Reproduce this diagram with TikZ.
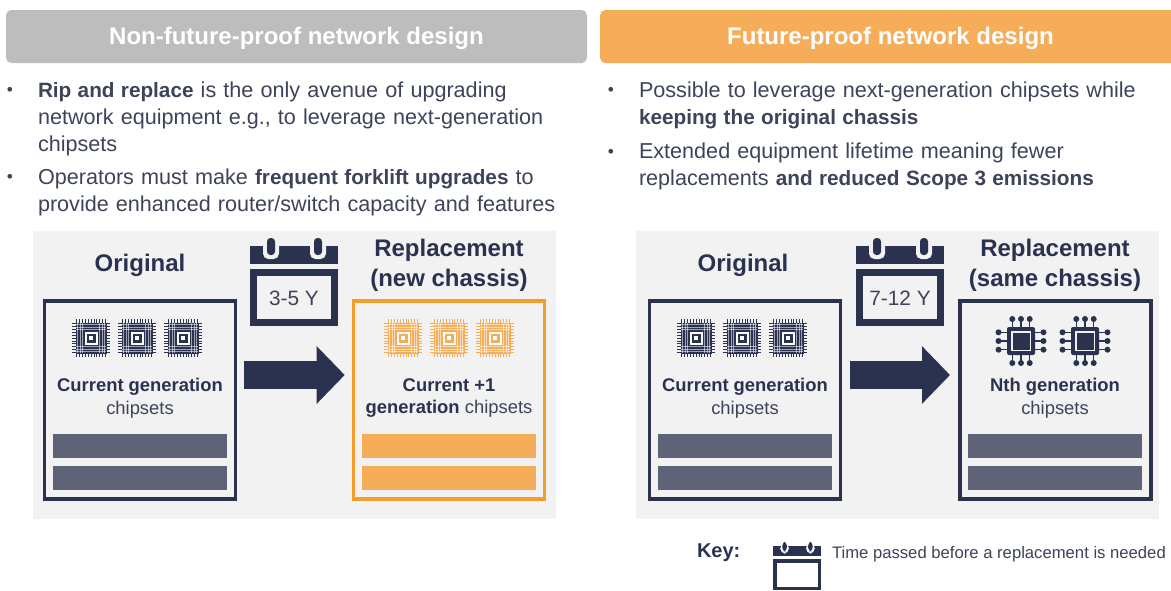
\documentclass[tikz,border=0pt]{standalone}
\usepackage{fontspec}
\setmainfont{Liberation Sans}
\newfontfamily\parafamily[WordSpace=1.19, BoldFeatures={Scale=.96, WordSpace=1.1}]{Liberation Sans}
\usetikzlibrary{positioning,arrows.meta}

\definecolor{navy}{HTML}{2A3250}
\definecolor{slate}{HTML}{5E6378}
\definecolor{bodytext}{HTML}{3D4359}
\definecolor{amber}{HTML}{F5AD5A}
\definecolor{amberline}{HTML}{F29D2E}
\definecolor{silver}{HTML}{BDBDBD}
\definecolor{panelgrey}{HTML}{F2F2F2}

\begin{document}
\begin{tikzpicture}[x=.75pt, y=-.75pt,
every node/.style={inner sep=0pt, outer sep=0pt},
header/.style={rectangle, rounded corners=4pt, minimum width=435.75pt, minimum height=39.75pt, text height=13pt, text depth=1pt, text=white, font=\fontsize{18}{22}\selectfont\bfseries},
panel/.style={rectangle, fill=panelgrey, minimum width=392.25pt, minimum height=216pt},
chassis/.style={rectangle, draw=navy, line width=2.6pt, minimum width=143.25pt, minimum height=148.5pt},
bar/.style={rectangle, fill=slate, minimum width=130.5pt, minimum height=18pt},
bullet/.style={text=bodytext, font=\fontsize{13}{16}\selectfont},
para/.style={anchor=north west, align=left, text=bodytext, font=\parafamily\fontsize{16.2}{20.25}\selectfont},
title/.style={align=center, text=navy, font=\fontsize{18}{22.6}\selectfont\bfseries},
small/.style={align=center, text=bodytext, font=\fontsize{13.8}{17.2}\selectfont},
years/.style={text=bodytext, font=\fontsize{15.6}{19}\selectfont},
bigarrow/.style={line width=21pt, draw=navy, -{Triangle[length=21pt, width=42pt]}, shorten <=6.4pt, shorten >=6.6pt},
pics/densechip/.style={code={
  \foreach \p in {-14.5,-11.6,...,14.6} {
    \draw [#1, line width=.55pt] (\p,-19) -- (\p,19);
    \draw [#1, line width=.55pt] (-19,\p) -- (19,\p);
  }
  \fill [#1] (-15.5,-15.5) rectangle (15.5,15.5);
  \foreach \p in {-13.5,-11,-8.5,8.5,11,13.5} {
    \draw [white, opacity=.55, line width=.3pt] (\p,-15) -- (\p,15);
    \draw [white, opacity=.55, line width=.3pt] (-15,\p) -- (15,\p);
  }
  \fill [#1] (-8,-8) rectangle (8,8);
  \fill [white] (-6.5,-6.5) rectangle (6.5,6.5);
  \fill [#1] (-4.5,-4.5) rectangle (4.5,4.5);
  \fill [white] (-2.2,-2.2) rectangle (2.2,2.2);
}},
pics/boldchip/.style={code={
  \foreach \p in {-8.7,0,8.7} {
    \draw [navy, line width=.9pt] (\p,-22) -- (\p,22);
    \draw [navy, line width=.9pt] (-22.5,\p) -- (22.5,\p);
    \fill [navy] (\p,-22) circle (3);
    \fill [navy] (\p,22) circle (3);
    \fill [navy] (-22.5,\p) circle (3);
    \fill [navy] (22.5,\p) circle (3);
  }
  \fill [navy, rounded corners=1.5pt] (-14,-14) rectangle (14,14);
  \fill [panelgrey] (-10.3,-10.3) rectangle (10.3,10.3);
  \fill [navy] (-8.5,-8.5) rectangle (8.5,8.5);
}},
pics/calendar/.style={code={
  \fill [navy] (0,8) rectangle (88,26);
  \foreach \p in {21,68} {
    \fill [#1, rounded corners=4pt] (\p-8,2) rectangle (\p+8,21);
    \fill [navy, rounded corners=2.6pt] (\p-4,0) rectangle (\p+4,17);
  }
  \fill [navy] (0,31) rectangle (88,88);
  \fill [#1] (7,38) rectangle (81,81);
}}
]

\clip (0,0) rectangle (1171,590);

\node [header, fill=silver] (nofuture) at (296.5,36.5) {Non-future-proof network design};
\node [header, fill=amber] (future) at (890.5,36.5) {Future-proof network design};

\node [bullet] (dota) at (10,91) {•};
\node [para] (rip) at (38,82) {\textbf{Rip and replace} is the only avenue of upgrading\\network equipment e.g., to leverage next-generation\\chipsets};
\node [bullet] (dotb) at (10,178) {•};
\node [para] (operators) at (38,169) {Operators must make \textbf{frequent forklift upgrades} to\\provide enhanced router/switch capacity and features};
\node [bullet] (dotc) at (611,91) {•};
\node [para] (possible) at (639,82) {Possible to leverage next-generation chipsets while\\\textbf{keeping the original chassis}};
\node [bullet] (dotd) at (611,153) {•};
\node [para] (extended) at (639,143) {Extended equipment lifetime meaning fewer\\replacements \textbf{and reduced Scope 3 emissions}};

\node [panel] (panela) at (294.5,375) {};
\node [panel] (panelb) at (897.7,375) {};

\node [chassis] (origa) at (140,400) {};
\node [chassis, draw=amberline] (repla) at (449,400) {};
\node [chassis] (origb) at (745,400) {};
\node [chassis] (replb) at (1055.5,400) {};

\node [title] (origatitle) at (140,265) {Original};
\node [title] (replatitle) at (449,265) {Replacement\\(new chassis)};
\node [title] (origbtitle) at (743,265) {Original};
\node [title] (replbtitle) at (1055,265) {Replacement\\(same chassis)};

\foreach \x in {91,137,183} \pic at (\x,338) {densechip=navy};
\foreach \x in {403,449,495} \pic at (\x,338) {densechip=amber};
\foreach \x in {696,742,788} \pic at (\x,338) {densechip=navy};
\foreach \x in {1021,1085} \pic at (\x,341) {boldchip};

\node [small] (origalabel) at (140,398) {\textbf{\textcolor{navy}{Current generation}}\\chipsets};
\node [small] (replalabel) at (449,398) {\textbf{\textcolor{navy}{Current +1}}\\\textbf{\textcolor{navy}{generation}} chipsets};
\node [small] (origblabel) at (745,398) {\textbf{\textcolor{navy}{Current generation}}\\chipsets};
\node [small] (replblabel) at (1055,398) {\textbf{\textcolor{navy}{Nth generation}}\\chipsets};

\node [bar] (origabar) at (140,446) {};
\node [bar] (origabarb) at (140,478) {};
\node [bar, fill=amber] (replabar) at (449,446) {};
\node [bar, fill=amber] (replabarb) at (449,478) {};
\node [bar] (origbbar) at (745,446) {};
\node [bar] (origbbarb) at (745,478) {};
\node [bar] (replbbar) at (1055,446) {};
\node [bar] (replbbarb) at (1055,478) {};

\draw [bigarrow] ([yshift=18.75pt]origa.east) -- ([yshift=18.75pt]repla.west);
\draw [bigarrow, shorten <=7.1pt, shorten >=7.5pt] ([yshift=18.75pt]origb.east) -- ([yshift=18.75pt]replb.west);

\pic at (250,238) {calendar=panelgrey};
\node [years] (yearsa) at (294,298) {3-5 Y};
\pic at (856,238) {calendar=panelgrey};
\node [years] (yearsb) at (900,298) {7-12 Y};

\node [anchor=base west, text=navy, font=\fontsize{15}{18}\selectfont\bfseries] (key) at (697,557) {Key:};
\pic [scale=.55] at (773,542) {calendar=white};
\node [anchor=base west, text=bodytext, font=\fontsize{12.5}{15}\selectfont] (keytext) at (832,558) {Time passed before a replacement is needed};

\end{tikzpicture}
\end{document}
